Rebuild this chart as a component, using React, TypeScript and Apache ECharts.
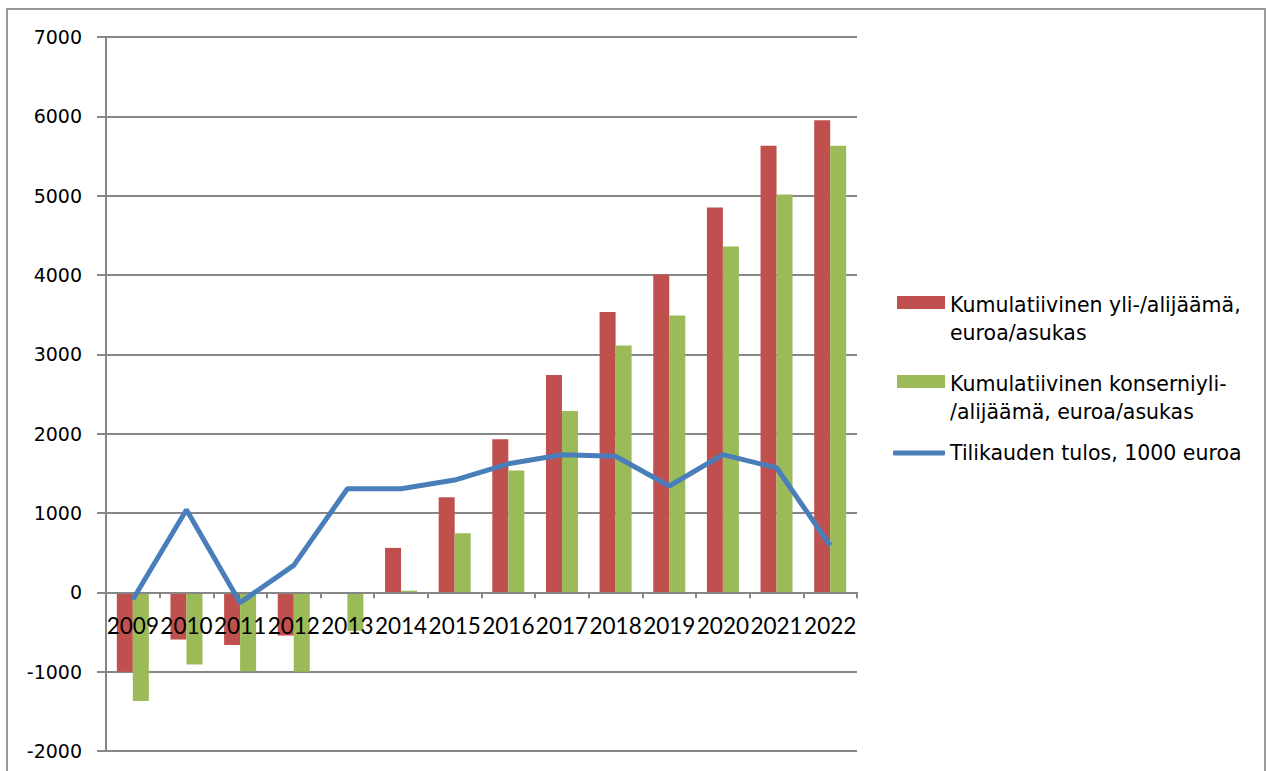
import React, { useEffect, useRef } from "react";
import * as echarts from "echarts";

const years = ["2009", "2010", "2011", "2012", "2013", "2014", "2015", "2016", "2017", "2018", "2019", "2020", "2021", "2022"];
const kumulatiivinen = [-1000, -595, -665, -545, 0, 560, 1200, 1930, 2740, 3535, 4005, 4850, 5630, 5950];
const konserni = [-1370, -910, -995, -1000, -485, 20, 745, 1535, 2285, 3110, 3490, 4360, 5015, 5630];
const tulos = [-90, 1040, -130, 340, 1305, 1305, 1415, 1620, 1735, 1715, 1340, 1735, 1570, 590];

const name1 = "Kumulatiivinen yli-/alijäämä,\neuroa/asukas";
const name2 = "Kumulatiivinen konserniyli-\n/alijäämä, euroa/asukas";
const name3 = "Tilikauden tulos, 1000 euroa";

const legendFont = "DejaVu Sans";
const gridColor = "#878787";
// rect icon at top of a taller (invisible) box so the swatch lines up with the first text line
const barIcon = "path://M0,0L48,0L48,13L0,13Z M0,46L48,46";

export default function App() {
  const ref = useRef<HTMLDivElement>(null);
  useEffect(() => {
    if (!ref.current) return;
    const chart = echarts.init(ref.current, undefined, { renderer: "svg" });
    const legendText = {
      fontFamily: legendFont,
      fontSize: 20.5,
      color: "#000",
      lineHeight: 28,
    };
    chart.setOption({
      animation: false,
      backgroundColor: "#fff",
      graphic: [
        {
          type: "rect",
          shape: { x: 7, y: 9, width: 1258, height: 800 },
          style: { fill: "none", stroke: "#9a9a9a", lineWidth: 2 },
          silent: true,
        },
      ],
      legend: [
        {
          data: [{ name: name1, icon: barIcon }],
          orient: "vertical",
          left: 897,
          top: 291,
          padding: 0,
          itemWidth: 48,
          itemHeight: 46,
          itemGap: 0,
          textStyle: legendText,
        },
        {
          data: [{ name: name2, icon: barIcon }],
          orient: "vertical",
          left: 897,
          top: 370,
          padding: 0,
          itemWidth: 48,
          itemHeight: 46,
          itemGap: 0,
          textStyle: legendText,
        },
        {
          data: [{ name: name3, icon: "roundRect" }],
          orient: "vertical",
          left: 893,
          top: 439,
          padding: 0,
          itemWidth: 52,
          itemHeight: 5,
          itemGap: 0,
          textStyle: legendText,
        },
      ],
      grid: { left: 106, right: 409, top: 37, bottom: 20, containLabel: false, outerBoundsMode: "none" },
      xAxis: {
        type: "category",
        data: years,
        z: 3,
        axisLine: { show: true, onZero: true, lineStyle: { color: gridColor, width: 2 } },
        axisTick: { show: true, interval: 0, length: 6, inside: false, lineStyle: { color: gridColor, width: 2 } },
        axisLabel: { interval: 0, margin: -137, fontFamily: "Lato", fontSize: 22.5, color: "#000", hideOverlap: false },
        splitLine: { show: false },
      },
      yAxis: {
        type: "value",
        min: -2000,
        max: 7000,
        interval: 1000,
        axisLine: { show: true, lineStyle: { color: gridColor, width: 2 } },
        axisTick: { show: true, length: 9, lineStyle: { color: gridColor, width: 2 } },
        axisLabel: {
          margin: 24,
          fontFamily: "DejaVu Sans",
          fontSize: 19,
          color: "#000",
          formatter: (v: number) => String(v),
        },
        splitLine: { show: true, lineStyle: { color: gridColor, width: 2 } },
      },
      series: [
        {
          name: name1,
          type: "bar",
          data: kumulatiivinen,
          itemStyle: { color: "#C0504D" },
          barWidth: 16,
          barGap: "0%",
          z: 2,
        },
        {
          name: name2,
          type: "bar",
          data: konserni,
          itemStyle: { color: "#9BBB59" },
          barWidth: 16,
          barGap: "0%",
          z: 2,
        },
        {
          name: name3,
          type: "line",
          data: tulos,
          symbol: "none",
          lineStyle: { color: "#4A7EBB", width: 5 },
          itemStyle: { color: "#4A7EBB" },
          z: 5,
        },
      ],
    });
    return () => chart.dispose();
  }, []);
  return (
    <div
      ref={ref}
      style={{ position: "fixed", left: 0, top: 0, width: 1266, height: 771 }}
    />
  );
}
